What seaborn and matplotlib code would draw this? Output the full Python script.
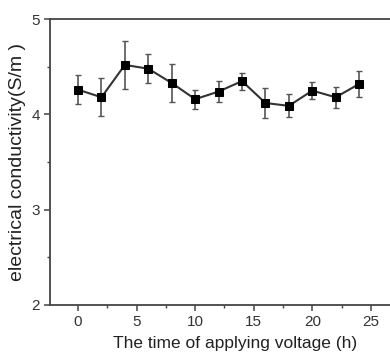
import matplotlib
matplotlib.use("Agg")
import matplotlib.pyplot as plt
import seaborn as sns
import pandas as pd
from matplotlib.ticker import MultipleLocator

hours = [0, 2, 4, 6, 8, 10, 12, 14, 16, 18, 20, 22, 24]
conductivity = [4.26, 4.18, 4.52, 4.48, 4.33, 4.16, 4.24, 4.35, 4.12, 4.09, 4.25, 4.18, 4.32]
error = [0.15, 0.20, 0.25, 0.15, 0.20, 0.10, 0.11, 0.09, 0.16, 0.12, 0.09, 0.11, 0.14]

df = pd.DataFrame({"hours": hours, "conductivity": conductivity, "error": error})

sns.set_style("ticks")
plt.rcParams['font.family'] = ['Liberation Sans', 'DejaVu Sans']

fig = plt.figure(figsize=(3.9, 3.55), dpi=100)
# the original plot is cropped on the right, so the axes run past the figure edge
ax = fig.add_axes([0.128, 0.141, 0.949, 0.805])

ax.errorbar(df["hours"], df["conductivity"], yerr=df["error"], fmt="none",
            ecolor="#555555", elinewidth=1.2, capsize=2.5, capthick=1.0, zorder=2)
sns.lineplot(data=df, x="hours", y="conductivity", ax=ax, color="#333333",
             linewidth=1.5, marker="s", markersize=6, markerfacecolor="black",
             markeredgecolor="black", zorder=3)

ax.set_xlim(-2.4, 29.2)
ax.set_ylim(2, 5)
ax.xaxis.set_major_locator(MultipleLocator(5))
ax.xaxis.set_minor_locator(MultipleLocator(2.5))
ax.yaxis.set_major_locator(MultipleLocator(1))
ax.yaxis.set_minor_locator(MultipleLocator(0.5))

for s in ["left", "bottom", "top"]:
    ax.spines[s].set_color("#444444")
    ax.spines[s].set_linewidth(1.3)
ax.spines["right"].set_visible(False)
ax.tick_params(which="major", direction="out", length=4, width=1.1, color="#444444",
               labelsize=11, labelcolor="#333333", pad=3)
ax.tick_params(which="minor", direction="out", length=2.5, width=1.0, color="#444444")

ax.set_xlabel("The time of applying voltage (h)", fontsize=12.5, color="#222222", labelpad=5)
ax.set_ylabel("electrical conductivity(S/m )", fontsize=14, color="#222222", labelpad=4)

fig.savefig("out.png", dpi=100)
